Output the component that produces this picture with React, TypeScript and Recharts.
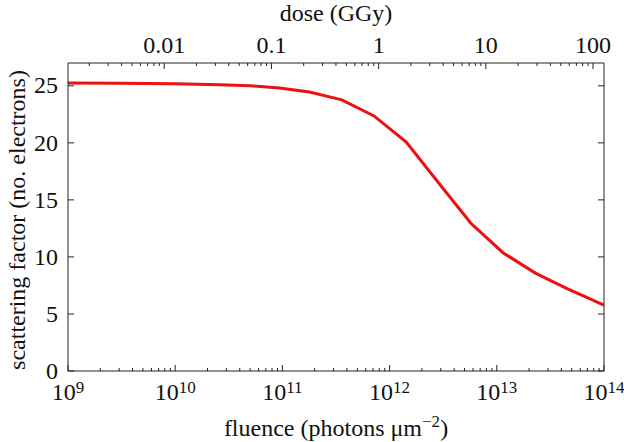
import React from 'react';
import { LineChart, Line, XAxis, YAxis, Label } from 'recharts';

// ---- data ----
const fluence = [1e9, 3e9, 1e10, 2.6e10, 5e10, 9.4e10, 1.79e11, 3.58e11, 7.16e11, 1.43e12, 2.86e12, 5.73e12, 1.15e13, 2.29e13, 4.58e13, 1e14];
const scatteringFactor = [25.24, 25.22, 25.18, 25.09, 25.0, 24.8, 24.45, 23.77, 22.36, 20.06, 16.5, 12.95, 10.35, 8.58, 7.2, 5.78];

// fluence (photons µm^-2) that corresponds to 1 GGy
const FLUENCE_PER_GGY = 7.9e11;

const fluenceDomain = [1e9, 1e14];
const fluenceMajorExponents = [9, 10, 11, 12, 13, 14];
const doseMajorTicks = [0.01, 0.1, 1, 10, 100];
const doseMajorLabels = ['0.01', '0.1', '1', '10', '100'];
const yTicks = [0, 5, 10, 15, 20, 25];
const yDomain = [0, 27];

const data = fluence.map((f, i) => ({ fluence: f, dose: f / FLUENCE_PER_GGY, sf: scatteringFactor[i] }));

const doseDomain = [fluenceDomain[0] / FLUENCE_PER_GGY, fluenceDomain[1] / FLUENCE_PER_GGY];

const round3 = (v: number) => Number(v.toPrecision(3));

const fluenceTicks: number[] = [];
for (let e = 9; e <= 14; e++) {
  for (let m = 1; m <= 9; m++) {
    const v = round3(m * Math.pow(10, e));
    if (v >= fluenceDomain[0] && v <= fluenceDomain[1]) fluenceTicks.push(v);
  }
}
const doseTicks: number[] = [];
for (let e = -3; e <= 2; e++) {
  for (let m = 1; m <= 9; m++) {
    const v = round3(m * Math.pow(10, e));
    if (v >= doseDomain[0] && v <= doseDomain[1]) doseTicks.push(v);
  }
}

const FONT = "'Liberation Serif'";
const FS = 24;
const AXIS = '#222';
const MAJOR = 6;
const MINOR = 3;
const txt: React.CSSProperties = { fontFamily: FONT, fontSize: FS };
const sup: React.CSSProperties = { fontFamily: FONT, fontSize: 17 };

const isFluenceMajor = (v: number) => fluenceMajorExponents.some((e) => Math.abs(Math.log10(v) - e) < 1e-6);
const doseMajorIndex = (v: number) => doseMajorTicks.findIndex((d) => Math.abs(Math.log10(v) - Math.log10(d)) < 1e-6);

const BottomTick = (props: any) => {
  const { x, y, payload } = props;
  const v = payload.value as number;
  const major = isFluenceMajor(v);
  const len = major ? MAJOR : MINOR;
  return (
    <g>
      <line x1={x} x2={x} y1={y} y2={y - len} stroke={AXIS} strokeWidth={1} />
      {major && (
        <text x={x} y={y + 29} textAnchor="middle" style={txt} fill="#111">
          10
          <tspan dy={-7} style={sup}>{Math.round(Math.log10(v))}</tspan>
        </text>
      )}
    </g>
  );
};

const TopTick = (props: any) => {
  const { x, y, payload } = props;
  const v = payload.value as number;
  const idx = doseMajorIndex(v);
  const major = idx >= 0;
  const len = major ? MAJOR : MINOR;
  return (
    <g>
      <line x1={x} x2={x} y1={y} y2={y + len} stroke={AXIS} strokeWidth={1} />
      {major && (
        <text x={x} y={y - 10} textAnchor="middle" style={txt} fill="#111">
          {doseMajorLabels[idx]}
        </text>
      )}
    </g>
  );
};

const LeftTick = (props: any) => {
  const { x, y, payload } = props;
  return (
    <g>
      <line x1={x} x2={x + MAJOR} y1={y} y2={y} stroke={AXIS} strokeWidth={1} />
      <text x={x - 10} y={y} dy="0.32em" textAnchor="end" style={txt} fill="#111">
        {payload.value}
      </text>
    </g>
  );
};

const RightTick = (props: any) => {
  const { x, y } = props;
  return <line x1={x} x2={x - MAJOR} y1={y} y2={y} stroke={AXIS} strokeWidth={1} />;
};

export default function App() {
  return (
    <div style={{ position: 'absolute', left: 0, top: 0, width: 624, height: 442, background: '#fff', fontFamily: FONT }}>
      <LineChart width={624} height={442} data={data} margin={{ top: 8, right: 0, bottom: 11, left: 8 }} style={{ fontFamily: FONT }}>
        <XAxis
          xAxisId="b"
          dataKey="fluence"
          type="number"
          scale="log"
          domain={fluenceDomain}
          allowDataOverflow
          ticks={fluenceTicks}
          interval={0}
          tickSize={0}
          tickMargin={0}
          tickLine={false}
          tick={(p: any) => <BottomTick {...p} />}
          height={60}
          axisLine={{ stroke: AXIS, strokeWidth: 1 }}
        >
          <Label
            content={(p: any) => {
              const vb = p.viewBox || { x: 68, y: 371, width: 536 };
              return (
                <text x={vb.x + vb.width / 2} y={436} textAnchor="middle" style={txt} fill="#111">
                  fluence (photons μm
                  <tspan dy={-9} style={sup}>−2</tspan>
                  <tspan dy={9}>)</tspan>
                </text>
              );
            }}
          />
        </XAxis>
        <XAxis
          xAxisId="t"
          orientation="top"
          dataKey="dose"
          type="number"
          scale="log"
          domain={doseDomain}
          allowDataOverflow
          ticks={doseTicks}
          interval={0}
          tickSize={0}
          tickMargin={0}
          tickLine={false}
          tick={(p: any) => <TopTick {...p} />}
          height={55}
          axisLine={{ stroke: AXIS, strokeWidth: 1 }}
        >
          <Label
            content={(p: any) => {
              const vb = p.viewBox || { x: 68, y: 8, width: 536 };
              return (
                <text x={vb.x + vb.width / 2} y={21} textAnchor="middle" style={txt} fill="#111">
                  dose (GGy)
                </text>
              );
            }}
          />
        </XAxis>
        <YAxis
          yAxisId="l"
          type="number"
          domain={yDomain}
          allowDataOverflow
          ticks={yTicks}
          interval={0}
          tickSize={0}
          tickMargin={0}
          tickLine={false}
          tick={(p: any) => <LeftTick {...p} />}
          width={60}
          axisLine={{ stroke: AXIS, strokeWidth: 1 }}
        >
          <Label
            content={(p: any) => {
              const vb = p.viewBox || { x: 8, y: 63, height: 308 };
              const cy = vb.y + vb.height / 2 + 3;
              return (
                <text x={17} y={cy} transform={`rotate(-90 17 ${cy})`} dy="0.34em" textAnchor="middle" style={txt} fill="#111">
                  scattering factor (no. electrons)
                </text>
              );
            }}
          />
        </YAxis>
        <YAxis
          yAxisId="r"
          orientation="right"
          type="number"
          domain={yDomain}
          allowDataOverflow
          ticks={yTicks}
          interval={0}
          tickSize={0}
          tickMargin={0}
          tickLine={false}
          tick={(p: any) => <RightTick {...p} />}
          width={20}
          axisLine={{ stroke: AXIS, strokeWidth: 1 }}
        />
        <Line
          xAxisId="b"
          yAxisId="l"
          type="linear"
          dataKey="sf"
          stroke="#ec1010"
          strokeWidth={3}
          dot={false}
          isAnimationActive={false}
        />
      </LineChart>
    </div>
  );
}
